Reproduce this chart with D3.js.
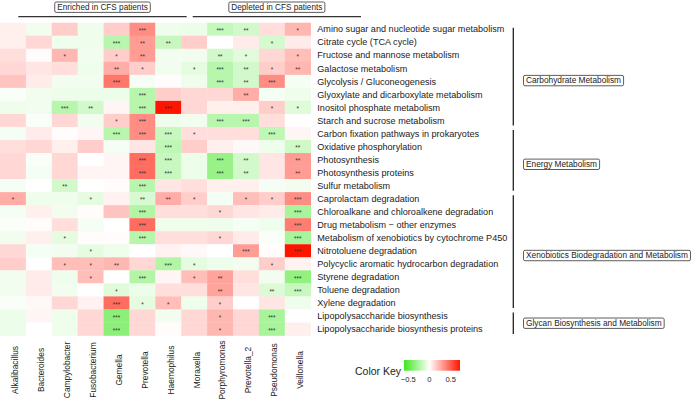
<!DOCTYPE html>
<html><head><meta charset="utf-8">
<script src="https://cdn.jsdelivr.net/npm/d3@7"></script>
<style>
body{margin:0;background:#fff;}
svg{display:block;font-family:"Liberation Sans",Arial,Helvetica,sans-serif;}
</style></head>
<body><svg id="chart" width="694" height="405"></svg>
<script>
const columns = ["Alkalibacillus","Bacteroides","Campylobacter","Fusobacterium","Gemella","Prevotella","Haemophilus","Moraxella","Porphyromonas","Prevotella_2","Pseudomonas","Veillonella"];
const rows = ["Amino sugar and nucleotide sugar metabolism","Citrate cycle (TCA cycle)","Fructose and mannose metabolism","Galactose metabolism","Glycolysis / Gluconeogenesis","Glyoxylate and dicarboxylate metabolism","Inositol phosphate metabolism","Starch and sucrose metabolism","Carbon fixation pathways in prokaryotes","Oxidative phosphorylation","Photosynthesis","Photosynthesis proteins","Sulfur metabolism","Caprolactam degradation","Chloroalkane and chloroalkene degradation","Drug metabolism \u2212 other enzymes","Metabolism of xenobiotics by cytochrome P450","Nitrotoluene degradation","Polycyclic aromatic hydrocarbon degradation","Styrene degradation","Toluene degradation","Xylene degradation","Lipopolysaccharide biosynthesis","Lipopolysaccharide biosynthesis proteins"];
const groupNames = ["Carbohydrate Metabolism","Energy Metabolism","Xenobiotics Biodegradation and Metabolism","Glycan Biosynthesis and Metabolism"];
const groupFirstRow = [0, 8, 13, 22];
const groupLastRow = [7, 12, 21, 23];
const headerNames = ["Enriched in CFS patients","Depleted in CFS patients"];
const values = [
 [0.05,-0.04,0.15,-0.05,0.15,0.35,-0.05,-0.06,-0.18,-0.14,0.10,0.22],
 [0.05,0.12,-0.05,-0.05,-0.22,0.30,-0.17,0.15,0.00,0.06,-0.13,0.06],
 [0.10,0.01,0.22,-0.04,0.15,0.30,-0.04,-0.04,-0.14,-0.09,0.12,0.20],
 [0.12,0.08,0.10,-0.05,0.25,0.15,-0.04,-0.08,-0.22,-0.14,0.15,0.22],
 [0.18,0.06,-0.04,-0.04,0.42,-0.03,0.01,-0.05,-0.22,-0.14,0.35,-0.03],
 [-0.02,-0.04,-0.06,-0.06,-0.06,-0.22,0.15,0.12,0.12,0.25,-0.03,-0.05],
 [-0.05,-0.04,-0.22,-0.14,0.03,-0.22,0.72,0.12,0.05,0.05,0.15,-0.10],
 [0.12,-0.02,0.12,-0.04,0.15,0.35,-0.05,-0.04,-0.22,-0.22,0.10,0.00],
 [-0.03,0.06,0.01,0.03,-0.22,0.35,-0.17,0.10,0.10,0.10,-0.20,0.03],
 [0.10,0.12,0.05,0.15,-0.03,0.08,-0.20,0.15,0.05,0.02,-0.05,-0.15],
 [0.12,-0.02,0.12,0.00,0.03,0.45,-0.17,-0.06,-0.32,-0.14,0.08,0.30],
 [0.12,-0.03,0.12,0.03,0.03,0.45,-0.17,-0.06,-0.32,-0.14,0.08,0.30],
 [-0.03,0.00,-0.14,0.00,0.01,-0.22,0.08,0.10,0.05,0.05,-0.03,-0.04],
 [0.25,-0.05,-0.05,-0.08,0.04,-0.12,0.25,0.15,-0.03,0.20,0.15,0.35],
 [-0.03,0.05,-0.04,0.01,0.18,-0.24,0.10,0.10,0.12,0.08,0.06,-0.27],
 [-0.02,0.01,0.10,-0.03,0.00,0.45,-0.05,-0.05,-0.05,-0.03,-0.05,0.40],
 [-0.04,0.05,-0.08,0.01,0.01,-0.22,0.10,0.10,0.12,0.06,-0.02,-0.27],
 [0.12,-0.03,-0.04,-0.08,-0.05,0.00,0.04,0.02,0.00,0.30,0.01,0.72],
 [0.15,0.00,0.20,0.20,0.22,0.12,-0.24,-0.08,-0.05,-0.04,0.15,0.04],
 [-0.04,0.06,-0.05,0.20,0.00,-0.24,0.03,0.20,0.28,0.10,-0.04,-0.34],
 [-0.04,0.06,-0.04,0.00,-0.10,-0.06,0.10,0.10,0.28,0.08,-0.11,-0.17],
 [-0.02,0.02,0.12,0.04,0.45,-0.08,0.20,-0.05,0.15,0.00,0.08,-0.05],
 [-0.06,0.03,-0.05,0.12,-0.36,0.12,-0.04,0.12,0.22,0.12,-0.27,0.00],
 [-0.06,0.00,-0.05,0.12,-0.36,0.12,0.01,0.12,0.22,0.12,-0.27,0.05]
];
const stars = [
 [0,0,0,0,0,3,0,0,3,2,0,1],
 [0,0,0,0,3,2,2,0,0,0,1,0],
 [0,0,1,0,1,2,0,0,2,1,0,1],
 [0,0,0,0,2,1,0,1,3,2,1,2],
 [0,0,0,0,3,0,0,0,3,2,3,0],
 [0,0,0,0,0,3,0,0,0,2,0,0],
 [0,0,3,2,0,3,3,0,0,0,1,1],
 [0,0,0,0,1,3,0,0,3,3,0,0],
 [0,0,0,0,3,3,3,1,0,0,3,0],
 [0,0,0,0,0,0,3,0,0,0,0,2],
 [0,0,0,0,0,3,3,0,3,2,0,2],
 [0,0,0,0,0,3,3,0,3,2,0,2],
 [0,0,2,0,0,3,0,0,0,0,0,0],
 [1,0,0,1,0,2,2,1,0,1,1,3],
 [0,0,0,0,0,3,0,0,1,0,0,3],
 [0,0,0,0,0,3,0,0,0,0,0,3],
 [0,0,1,0,0,3,0,0,1,0,0,3],
 [0,0,0,1,0,0,0,0,0,3,0,3],
 [0,0,1,1,2,0,3,1,0,0,1,0],
 [0,0,0,1,0,3,0,1,2,0,0,3],
 [0,0,0,0,1,0,0,0,2,0,2,3],
 [0,0,0,0,3,1,1,0,1,0,0,0],
 [0,0,0,0,3,0,0,0,1,0,3,0],
 [0,0,0,0,3,0,0,0,1,0,3,0]
];
const keyTicks = [-0.5, 0, 0.5];
const keyDomain = [-0.6, 0, 0.72];

const svg = d3.select("#chart");
const ink = "#222";
const color = d3.scaleLinear().domain(keyDomain).range(["#3EE61E","#FFFFFF","#FF1400"]).interpolate(d3.interpolateRgb);

const x = d3.scaleBand().domain(columns).range([0, 310.7]);
const y = d3.scaleBand().domain(rows).range([22.7, 335.5]);

// cells
const cells = [];
rows.forEach((r,i)=>columns.forEach((c,j)=>cells.push({r,c,v:values[i][j],s:stars[i][j]})));
const g = svg.append("g");
g.selectAll("rect").data(cells).join("rect")
 .attr("x",d=>x(d.c)).attr("y",d=>y(d.r))
 .attr("width",x.bandwidth()+0.3).attr("height",y.bandwidth()+0.3)
 .attr("fill",d=>color(d.v));
g.selectAll("text").data(cells.filter(d=>d.s>0)).join("text")
 .attr("x",d=>x(d.c)+x.bandwidth()/2).attr("y",d=>y(d.r)+y.bandwidth()/2+3.7)
 .attr("text-anchor","middle").attr("font-size",6.3).attr("fill","#333")
 .text(d=>"*".repeat(d.s));

// row labels
svg.append("g").selectAll("text").data(rows).join("text")
 .attr("x",317.3).attr("y",d=>y(d)+y.bandwidth()/2).attr("dy","0.35em")
 .attr("font-size",9.1).attr("fill",ink).text(d=>d);

// column labels
svg.append("g").selectAll("text").data(columns).join("text")
 .attr("transform",d=>`translate(${x(d)+x.bandwidth()/2+2.4},370) rotate(-90)`)
 .attr("text-anchor","middle").attr("dy","0.35em")
 .attr("font-size",8.4).attr("fill",ink).text(d=>d);

// boxed label helper
function boxLabel(txt, x0, yc, anchor, fs){
  const bg = svg.append("g");
  const r = bg.append("rect");
  const t = bg.append("text").attr("x",x0).attr("y",yc).attr("dy","0.35em")
    .attr("text-anchor",anchor).attr("font-size",fs).attr("fill",ink).text(txt);
  const b = t.node().getBBox();
  r.attr("x",b.x-2.5).attr("y",yc-5.2).attr("width",b.width+5).attr("height",10.4)
    .attr("rx",1.5).attr("fill","#fff").attr("stroke","#333").attr("stroke-width",0.8);
}

// headers
const headerLines = [[18.3,186.7],[192.7,361]];
headerNames.forEach((h,i)=>{
  const [a,b] = headerLines[i];
  svg.append("line").attr("x1",a).attr("x2",b).attr("y1",16.7).attr("y2",16.7).attr("stroke","#333").attr("stroke-width",1.3);
  boxLabel(h,(a+b)/2,7.2,"middle",8.2);
});

// group brackets
groupNames.forEach((nm,i)=>{
  const top = y(rows[groupFirstRow[i]]), bot = y(rows[groupLastRow[i]])+y.bandwidth();
  const t0 = top + (i===0?5:3), b0 = bot - 1.5;
  svg.append("line").attr("x1",513.3).attr("x2",513.3).attr("y1",t0).attr("y2",b0).attr("stroke","#222").attr("stroke-width",1.3);
  boxLabel(nm,526,(t0+b0)/2+(i===3?0:4),"start",8.3);
});

// colour key
const kx = d3.scaleLinear().domain([keyDomain[0],keyDomain[2]]).range([404,460]);
const grad = svg.append("defs").append("linearGradient").attr("id","kg");
d3.range(0,1.0001,0.05).forEach(f=>{
  const v = keyDomain[0]+f*(keyDomain[2]-keyDomain[0]);
  grad.append("stop").attr("offset",f).attr("stop-color",color(v));
});
svg.append("rect").attr("x",404).attr("y",360).attr("width",56).attr("height",10.7).attr("fill","url(#kg)");
svg.append("text").attr("x",355).attr("y",374.5).attr("font-size",10.5).attr("fill",ink).text("Color Key");
svg.append("g").selectAll("text").data(keyTicks).join("text")
 .attr("x",d=>kx(d)).attr("y",381.5).attr("text-anchor","middle").attr("font-size",7.6).attr("fill",ink)
 .text(d=>d3.format(".1~f")(d).replace("-","\u2212"));
</script></body></html>
